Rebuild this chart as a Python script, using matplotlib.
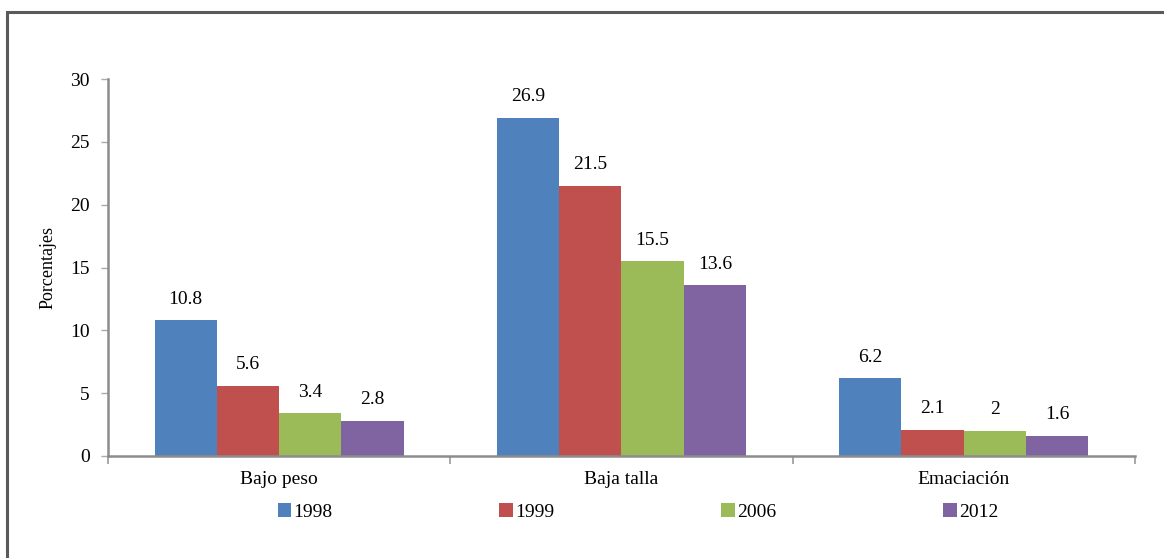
import numpy as np
import matplotlib
matplotlib.use('Agg')
import matplotlib.pyplot as plt
from matplotlib.patches import Rectangle

plt.rcParams['font.family'] = ['Liberation Serif', 'DejaVu Serif']

categories = ['Bajo peso', 'Baja talla', 'Emaciación']
years = ['1998', '1999', '2006', '2012']
values_1998 = [10.8, 26.9, 6.2]
values_1999 = [5.6, 21.5, 2.1]
values_2006 = [3.4, 15.5, 2]
values_2012 = [2.8, 13.6, 1.6]
series = [values_1998, values_1999, values_2006, values_2012]
colors = ['#4f81bd', '#c0504d', '#9bbb59', '#8064a2']

fig = plt.figure(figsize=(11.64, 5.58), dpi=100)
ax = fig.add_axes([0.0928, 0.1828, 0.8822, 0.6756])

x = np.arange(len(categories))
width = 0.182
for i, (vals, year) in enumerate(zip(series, years)):
    bars = ax.bar(x + (i - 1.5) * width, vals, width, color=colors[i],
                  label=year, zorder=2)
    ax.bar_label(bars, labels=[f'{v:g}' for v in vals], padding=9,
                 fontsize=14)

ax.set_xlim(-0.5, 2.5)
ax.set_ylim(0, 30)
ax.set_yticks(range(0, 31, 5))
ax.set_xticks(x)
ax.set_xticklabels(categories, fontsize=14)
ax.set_xticks(np.arange(-0.5, 2.6, 1), minor=True)
ax.tick_params(axis='x', which='major', length=0, pad=11)
ax.tick_params(axis='x', which='minor', length=6, color='#999999', width=1.2)
ax.tick_params(axis='y', length=5, color='#aaaaaa', width=1, labelsize=14,
               pad=8)
ax.set_ylabel('Porcentajes', fontsize=13, labelpad=10)

for side in ['top', 'right']:
    ax.spines[side].set_visible(False)
for side in ['left', 'bottom']:
    ax.spines[side].set_color('#8c8c8c')
    ax.spines[side].set_linewidth(1.8)

fig.legend(loc='center', bbox_to_anchor=(0.548, 1 - 512 / 558), ncol=4,
           frameon=False, fontsize=14, handlelength=0.7,
           handleheight=0.7, handletextpad=0.1, columnspacing=8.6)

# outer frame
fig.patches.append(Rectangle((7 / 1164, -0.1), 1.2, 1.1 - 12 / 558,
                             transform=fig.transFigure, fill=False,
                             edgecolor='#5a5a5a', linewidth=2.2))

fig.savefig('out.png', dpi=100)
